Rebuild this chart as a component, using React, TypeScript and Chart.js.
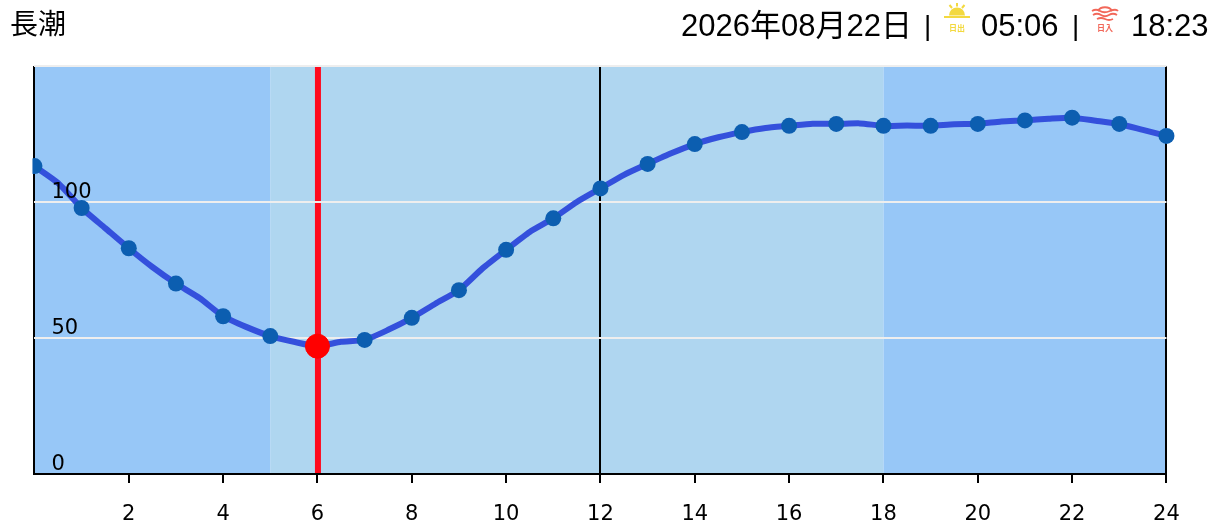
import React, { useEffect, useRef } from "react";
import { Chart, registerables } from "chart.js";

Chart.register(...registerables);

const hours = [0, 1, 2, 3, 4, 5, 6, 7, 8, 9, 10, 11, 12, 13, 14, 15, 16, 17, 18, 19, 20, 21, 22, 23, 24];
const tide = [113.2, 97.8, 83, 70, 58, 50.7, 47, 49.3, 57.4, 67.6, 82.4, 94, 105, 114, 121.3, 125.7, 128, 128.7, 128, 128, 128.7, 130, 131, 128.7, 124.3];
const halfHours = [0.5, 1.5, 2.5, 3.5, 4.5, 5.5, 6.5, 7.5, 8.5, 9.5, 10.5, 11.5, 12.5, 13.5, 14.5, 15.5, 16.5, 17.5, 18.5, 19.5, 20.5, 21.5, 22.5, 23.5];
const tideHalf = [107, 90.4, 76.1, 64.7, 54, 48.6, 48.6, 53, 62.6, 75.6, 89, 100, 110, 117.9, 123.8, 127.2, 128.8, 128.9, 128.1, 128.6, 129.6, 130.6, 129.9, 126.5];
const nightBands = [[0, 5], [18, 24]];
const dayBand = [5, 18];
const currentHour = 6;
const blackVerticals = [0, 12, 24];
const titleText = "長潮";
const dateText = "2026年08月22日";
const sunriseText = "05:06";
const sunsetText = "18:23";

const TEXT_FONT = '"Liberation Sans", "Noto Sans CJK JP", sans-serif';
const TICK_FONT = '"DejaVu Sans", sans-serif';

const linePoints = [
  ...hours.map((h, i) => ({ x: h, y: tide[i] })),
  ...halfHours.map((h, i) => ({ x: h, y: tideHalf[i] })),
].sort((a, b) => a.x - b.x);

const bandsPlugin = {
  id: "bands",
  beforeDraw(chart: any) {
    const { ctx, chartArea, scales } = chart;
    const x = scales.x;
    const h = chartArea.bottom - chartArea.top;
    ctx.save();
    ctx.fillStyle = "#afd6f0";
    ctx.fillRect(x.getPixelForValue(dayBand[0]), chartArea.top, x.getPixelForValue(dayBand[1]) - x.getPixelForValue(dayBand[0]), h);
    ctx.fillStyle = "#97c7f7";
    for (const [a, b] of nightBands) {
      ctx.fillRect(x.getPixelForValue(a), chartArea.top, x.getPixelForValue(b) - x.getPixelForValue(a), h);
    }
    ctx.fillStyle = "#ff0a1e";
    ctx.fillRect(x.getPixelForValue(currentHour) - 2.5, chartArea.top, 6, h);
    ctx.restore();
  },
};

function SunriseIcon() {
  return (
    <svg width="30" height="36" viewBox="0 0 30 36" style={{ position: "absolute", left: 942, top: 0 }}>
      <path d="M7 15.5 A8 8 0 0 1 23 15.5 Z" fill="#f3d93f" />
      <rect x="2" y="16" width="26" height="2" fill="#f3d93f" />
      <path d="M15 3 L15 6.5 M7.5 5 L10 8 M22.5 5 L20 8" stroke="#f3d93f" strokeWidth="2" />
      <text x="15" y="31" textAnchor="middle" fontSize="8" fontWeight="700" fill="#f3d93f" fontFamily='"Noto Sans CJK JP"'>日出</text>
    </svg>
  );
}

function SunsetIcon() {
  return (
    <svg width="30" height="36" viewBox="0 0 30 36" style={{ position: "absolute", left: 1090, top: 0 }}>
      <path d="M8 11 A7.5 6 0 0 1 22 11" fill="none" stroke="#f2685a" strokeWidth="2" />
      <path d="M2 11 Q6 8.5 10 11 T20 11 T28 11 M3 15 Q7 12.5 11 15 T19 15 T27 15 M7 19 Q11 17 15 19 T23 19" fill="none" stroke="#f2685a" strokeWidth="1.8" />
      <text x="15" y="31" textAnchor="middle" fontSize="8" fontWeight="700" fill="#f2685a" fontFamily='"Noto Sans CJK JP"'>日入</text>
    </svg>
  );
}

function Label({ left, top, text, size = 31 }: { left: number; top: number; text: string; size?: number }) {
  return (
    <span style={{ position: "absolute", left, top, fontSize: size, lineHeight: "36px", whiteSpace: "nowrap", color: "#000", fontFamily: TEXT_FONT }}>
      {text}
    </span>
  );
}

export default function App() {
  const canvasRef = useRef<HTMLCanvasElement>(null);

  useEffect(() => {
    const chart = new Chart(canvasRef.current as HTMLCanvasElement, {
      type: "scatter",
      plugins: [bandsPlugin],
      data: {
        datasets: [
          {
            label: "now",
            data: [{ x: currentHour, y: tide[hours.indexOf(currentHour)] }],
            backgroundColor: "#ff0000",
            borderColor: "#ff0000",
            pointRadius: 12,
            showLine: false,
            order: 0,
          },
          {
            label: "tide markers",
            data: hours.map((h, i) => ({ x: h, y: tide[i] })),
            showLine: false,
            backgroundColor: "#0c5eb0",
            pointBackgroundColor: "#0c5eb0",
            pointBorderWidth: 0,
            pointRadius: 8,
            clip: { left: 2, right: 10, top: 0, bottom: 0 },
            order: 1,
          },
          {
            label: "tide",
            data: linePoints,
            showLine: true,
            borderColor: "#3450dc",
            borderWidth: 6,
            tension: 0.2,
            pointRadius: 0,
            order: 2,
          },
        ],
      } as any,
      options: {
        responsive: false,
        animation: false,
        layout: { padding: { left: 34.45, right: 55.55, top: 66, bottom: 0 } },
        plugins: { legend: { display: false }, tooltip: { enabled: false } },
        scales: {
          x: {
            type: "linear",
            min: 0,
            max: 24,
            afterFit(scale: any) {
              scale.height = 54;
            },
            border: { color: "#000", width: 2 },
            grid: {
              lineWidth: 2,
              color: (c: any) => (blackVerticals.includes(c.tick?.value) ? "#000" : "rgba(0,0,0,0)"),
              tickColor: (c: any) => (c.tick?.value === 0 ? "rgba(0,0,0,0)" : "#000"),
              tickLength: 9,
            },
            ticks: {
              stepSize: 2,
              color: "#000",
              padding: 19,
              maxRotation: 0,
              font: { family: TICK_FONT, size: 21 },
              callback: (v: any) => (v === 0 ? "" : String(v)),
            },
          },
          y: {
            min: 0,
            max: 150,
            afterFit(scale: any) {
              scale.width = 0;
            },
            border: { display: false },
            grid: { color: "#eeeeee", lineWidth: 2, drawTicks: false },
            ticks: {
              stepSize: 50,
              mirror: true,
              padding: 17,
              labelOffset: -9,
              z: 1,
              color: "#000",
              font: { family: TICK_FONT, size: 21 },
              callback: (v: any) => (v === 150 ? "" : String(v)),
            },
          },
        },
      },
    } as any);
    return () => chart.destroy();
  }, []);

  return (
    <div style={{ position: "absolute", left: 0, top: 0, width: 1222, height: 528, overflow: "hidden", background: "#fff" }}>
      <canvas ref={canvasRef} width={1222} height={528} style={{ display: "block", width: 1222, height: 528 }} />
      <Label left={10} top={7} text={titleText} size={28} />
      <Label left={681} top={8} text={dateText} />
      <Label left={924} top={8} text="|" size={28} />
      <SunriseIcon />
      <Label left={981} top={8} text={sunriseText} />
      <Label left={1072} top={8} text="|" size={28} />
      <SunsetIcon />
      <Label left={1131} top={8} text={sunsetText} />
    </div>
  );
}
